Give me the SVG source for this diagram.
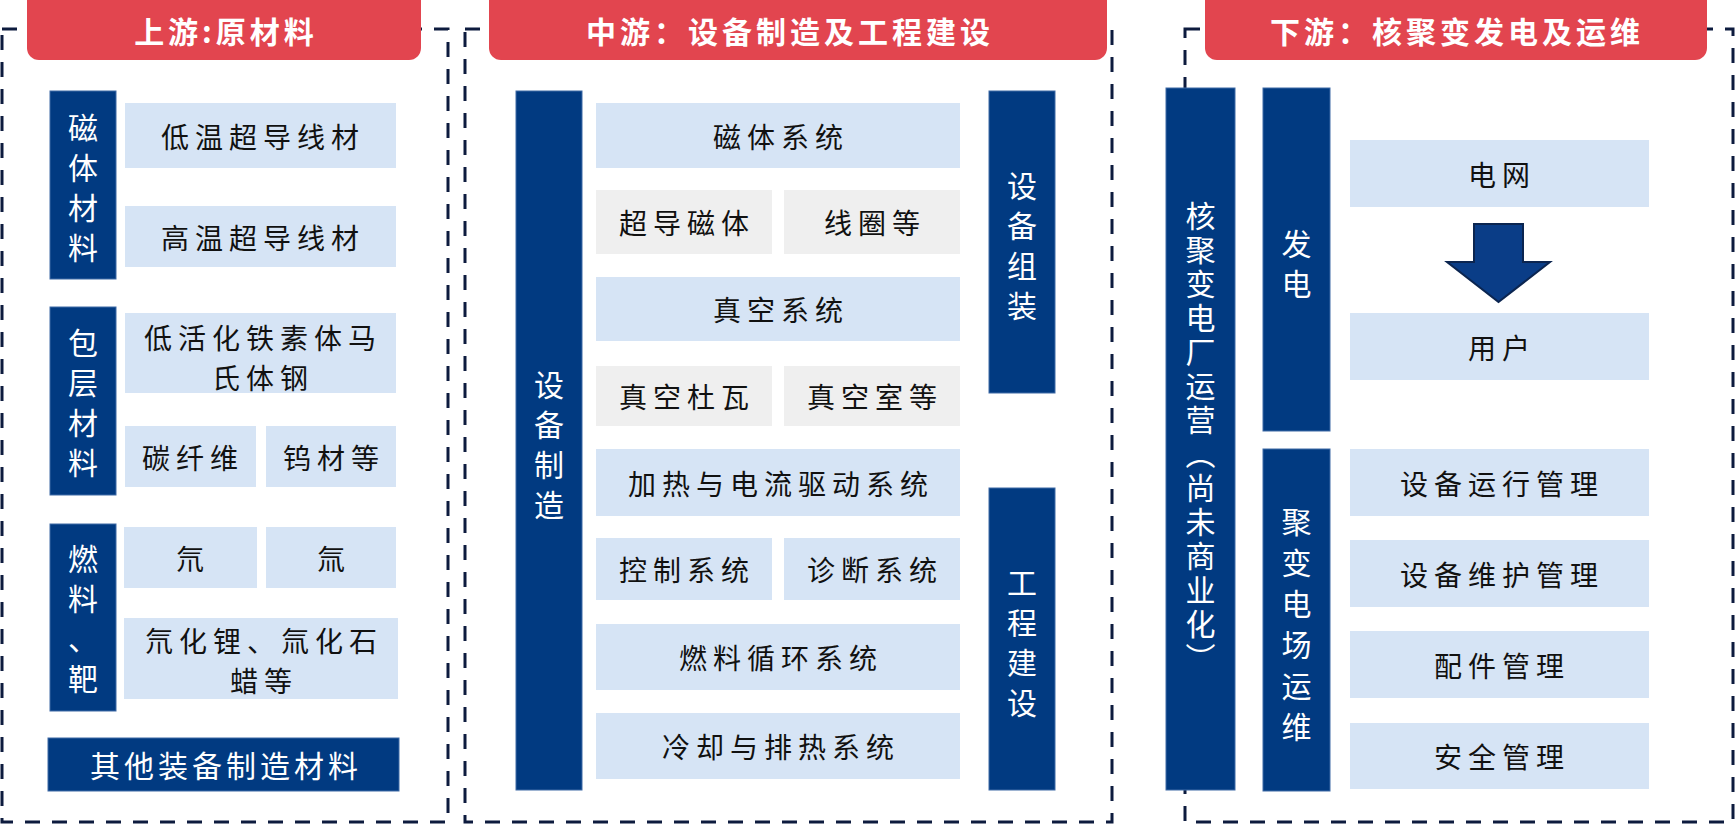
<svg xmlns="http://www.w3.org/2000/svg" width="1736" height="824" viewBox="0 0 1736 824">
<style>
text { font-family: "Noto Sans CJK SC", "Noto Sans", sans-serif; text-anchor: middle; dominant-baseline: central; }
.panel { fill: none; stroke: #0D1B3E; stroke-width: 3; stroke-dasharray: 15 12; }
.title rect { fill: #E2454F; }
.title text { fill: #FFFFFF; font-size: 30px; font-weight: 700; letter-spacing: 4px; }
.side rect { fill: #013A81; stroke: #3F6AA6; stroke-width: 1; }
.side text { fill: #FFFFFF; font-size: 30px; }
.lb rect { fill: #D6E4F5; }
.gb rect { fill: #EFEFEF; }
.lb text, .gb text { fill: #111111; font-size: 28px; letter-spacing: 6px; }
.arrow { fill: #0A3D87; stroke: #0B2550; stroke-width: 2; stroke-linejoin: miter; }
</style>

<!-- panels -->
<g id="panels">
  <rect class="panel" x="2" y="29" width="446" height="793"/>
  <rect class="panel" x="465" y="29" width="647" height="793"/>
  <rect class="panel" x="1185" y="29" width="548" height="793"/>
</g>

<!-- titles -->
<g id="title-up" class="title">
  <rect x="27" y="-12" width="394" height="72" rx="12"/>
  <text x="226" y="30">上游:原材料</text>
</g>
<g id="title-mid" class="title">
  <rect x="489" y="-12" width="618" height="72" rx="12"/>
  <text x="790" y="30">中游：设备制造及工程建设</text>
</g>
<g id="title-down" class="title">
  <rect x="1205" y="-12" width="502" height="72" rx="12"/>
  <text x="1457" y="30">下游：核聚变发电及运维</text>
</g>

<!-- upstream -->
<g id="side-magnet" class="side">
  <rect x="50" y="91" width="66" height="188"/>
  <text><tspan x="83" y="126">磁</tspan><tspan x="83" y="166">体</tspan><tspan x="83" y="206">材</tspan><tspan x="83" y="246">料</tspan></text>
</g>
<g id="n-lts" class="lb"><rect x="125" y="103" width="271" height="65"/><text x="263" y="136">低温超导线材</text></g>
<g id="n-hts" class="lb"><rect x="125" y="206" width="271" height="61"/><text x="263" y="237">高温超导线材</text></g>

<g id="side-clad" class="side">
  <rect x="50" y="307" width="66" height="188"/>
  <text><tspan x="83" y="341">包</tspan><tspan x="83" y="381">层</tspan><tspan x="83" y="421">材</tspan><tspan x="83" y="461">料</tspan></text>
</g>
<g id="n-steel" class="lb"><rect x="125" y="313" width="271" height="80"/><text><tspan x="263" y="337">低活化铁素体马</tspan><tspan x="263" y="377">氏体钢</tspan></text></g>
<g id="n-cf" class="lb"><rect x="125" y="426" width="131" height="61"/><text x="193" y="457">碳纤维</text></g>
<g id="n-w" class="lb"><rect x="266" y="426" width="130" height="61"/><text x="334" y="457">钨材等</text></g>

<g id="side-fuel" class="side">
  <rect x="50" y="524" width="66" height="187"/>
  <text><tspan x="83" y="557">燃</tspan><tspan x="83" y="597">料</tspan><tspan x="83" y="637">、</tspan><tspan x="83" y="677">靶</tspan></text>
</g>
<g id="n-d" class="lb"><rect x="124" y="527" width="133" height="61"/><text x="193" y="558">氘</text></g>
<g id="n-t" class="lb"><rect x="266" y="527" width="130" height="61"/><text x="334" y="558">氚</text></g>
<g id="n-lid" class="lb"><rect x="124" y="618" width="274" height="81"/><text><tspan x="264" y="640">氘化锂、氚化石</tspan><tspan x="264" y="680">蜡等</tspan></text></g>

<g id="n-other" class="side">
  <rect x="48" y="738" width="351" height="53"/>
  <text x="226" y="764" style="letter-spacing:4px">其他装备制造材料</text>
</g>

<!-- midstream -->
<g id="side-mfg" class="side">
  <rect x="516" y="91" width="66" height="699"/>
  <text><tspan x="549" y="383">设</tspan><tspan x="549" y="423">备</tspan><tspan x="549" y="463">制</tspan><tspan x="549" y="503">造</tspan></text>
</g>
<g id="n-magsys" class="lb"><rect x="596" y="103" width="364" height="65"/><text x="781" y="136">磁体系统</text></g>
<g id="n-scm" class="gb"><rect x="596" y="190" width="176" height="64"/><text x="687" y="222">超导磁体</text></g>
<g id="n-coil" class="gb"><rect x="784" y="190" width="176" height="64"/><text x="875" y="222">线圈等</text></g>
<g id="n-vacsys" class="lb"><rect x="596" y="277" width="364" height="64"/><text x="781" y="309">真空系统</text></g>
<g id="n-dewar" class="gb"><rect x="596" y="366" width="176" height="60"/><text x="687" y="396">真空杜瓦</text></g>
<g id="n-vessel" class="gb"><rect x="784" y="366" width="176" height="60"/><text x="875" y="396">真空室等</text></g>
<g id="n-heat" class="lb"><rect x="596" y="449" width="364" height="67"/><text x="781" y="483">加热与电流驱动系统</text></g>
<g id="n-ctrl" class="lb"><rect x="596" y="538" width="176" height="62"/><text x="687" y="569">控制系统</text></g>
<g id="n-diag" class="lb"><rect x="784" y="538" width="176" height="62"/><text x="875" y="569">诊断系统</text></g>
<g id="n-fuelcyc" class="lb"><rect x="596" y="624" width="364" height="66"/><text x="781" y="657">燃料循环系统</text></g>
<g id="n-cool" class="lb"><rect x="596" y="713" width="364" height="66"/><text x="781" y="746">冷却与排热系统</text></g>

<g id="side-assy" class="side">
  <rect x="989" y="91" width="66" height="302"/>
  <text><tspan x="1022" y="184">设</tspan><tspan x="1022" y="224">备</tspan><tspan x="1022" y="264">组</tspan><tspan x="1022" y="304">装</tspan></text>
</g>
<g id="side-eng" class="side">
  <rect x="989" y="488" width="66" height="302"/>
  <text><tspan x="1022" y="581">工</tspan><tspan x="1022" y="621">程</tspan><tspan x="1022" y="661">建</tspan><tspan x="1022" y="701">设</tspan></text>
</g>

<!-- downstream -->
<g id="side-plant" class="side">
  <rect x="1166" y="88" width="69" height="702"/>
  <text x="1200.5" y="439" style="writing-mode:vertical-rl;letter-spacing:4px">核聚变电厂运营（尚未商业化）</text>
</g>
<g id="side-power" class="side">
  <rect x="1263" y="88" width="67" height="343"/>
  <text><tspan x="1296.5" y="242">发</tspan><tspan x="1296.5" y="282">电</tspan></text>
</g>
<g id="side-om" class="side">
  <rect x="1263" y="449" width="67" height="342"/>
  <text><tspan x="1296.5" y="520">聚</tspan><tspan x="1296.5" y="561">变</tspan><tspan x="1296.5" y="602">电</tspan><tspan x="1296.5" y="643">场</tspan><tspan x="1296.5" y="684">运</tspan><tspan x="1296.5" y="725">维</tspan></text>
</g>
<g id="n-grid" class="lb"><rect x="1350" y="140" width="299" height="67"/><text x="1502" y="174">电网</text></g>
<g id="n-user" class="lb"><rect x="1350" y="313" width="299" height="67"/><text x="1502" y="347">用户</text></g>
<g id="n-opmgmt" class="lb"><rect x="1350" y="449" width="299" height="67"/><text x="1502" y="483">设备运行管理</text></g>
<g id="n-mtmgmt" class="lb"><rect x="1350" y="540" width="299" height="67"/><text x="1502" y="574">设备维护管理</text></g>
<g id="n-parts" class="lb"><rect x="1350" y="631" width="299" height="67"/><text x="1502" y="665">配件管理</text></g>
<g id="n-safety" class="lb"><rect x="1350" y="723" width="299" height="66"/><text x="1502" y="756">安全管理</text></g>

<!-- connectors -->
<g id="connectors">
  <polygon class="arrow" points="1474,224 1523,224 1523,262 1550,262 1498.5,302 1447,262 1474,262"/>
</g>
</svg>
